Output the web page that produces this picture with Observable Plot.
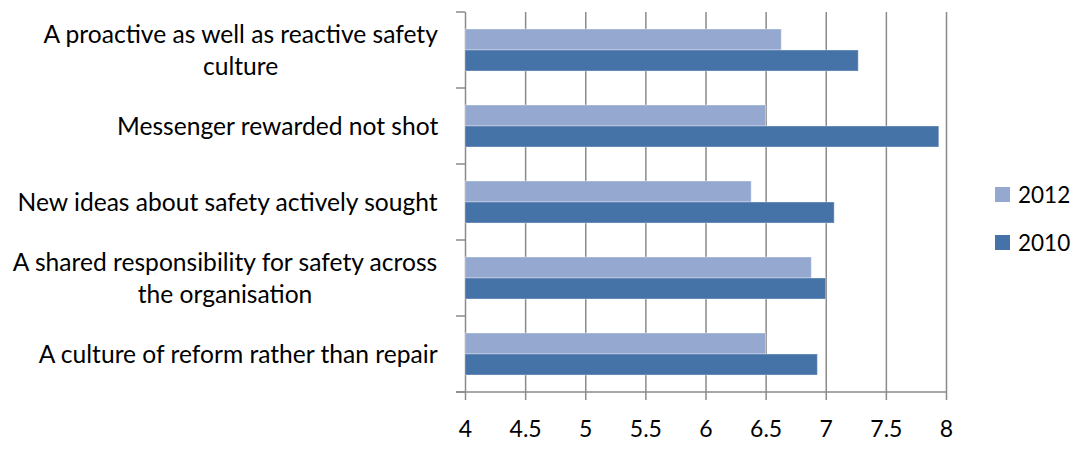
<!DOCTYPE html>
<html>
<head>
<meta charset="utf-8">
<script src="https://cdn.jsdelivr.net/npm/d3@7"></script>
<script src="https://cdn.jsdelivr.net/npm/@observablehq/plot@0.6"></script>
<style>
  body { margin: 0; background: #fff; font-family: Lato, "Open Sans", sans-serif; }
  #wrap { position: relative; width: 1092px; height: 455px; }
  .legend { position: absolute; left: 995px; top: 179px; font-family: Lato, sans-serif; font-size: 22.5px; color: #000; }
  .legend .row { display: flex; align-items: center; height: 30px; margin-bottom: 18px; }
  .legend .sw { width: 15px; height: 15px; margin-right: 8px; }
</style>
</head>
<body>
<div id="wrap"></div>
<script>
// ---- data ----
const categories = [
  "A proactive as well as reactive safety\nculture",
  "Messenger rewarded not shot",
  "New ideas about safety actively sought",
  "A shared responsibility for safety across\nthe organisation",
  "A culture of reform rather than repair"
];
const years = ["2012", "2010"];
const values2012 = [6.63, 6.50, 6.38, 6.88, 6.50];
const values2010 = [7.27, 7.94, 7.07, 7.00, 6.93];
const xDomain = [4, 8];
const xTicks = [4, 4.5, 5, 5.5, 6, 6.5, 7, 7.5, 8];
const colors = ["#95A9D0", "#4572A7"];

const data = categories.flatMap((c, i) => [
  {category: c, year: years[0], value: values2012[i]},
  {category: c, year: years[1], value: values2010[i]}
]);

const LABEL_FONT = 24.6;
const TICK_FONT = 23;
const gridColor = "#8a8a8a";

// measure label widths for centered multi-line labels
const ctx = document.createElement("canvas").getContext("2d");
ctx.font = `${LABEL_FONT}px Lato`;
const lineWidth = s => Math.max(...s.split("\n").map(l => ctx.measureText(l).width));

const labelMarks = categories.map(c => Plot.text([c], {
  fy: d => d,
  text: d => d,
  frameAnchor: "left",
  textAnchor: "middle",
  lineAnchor: "middle",
  lineHeight: 1.3,
  dx: -(27 + lineWidth(c) / 2),
  dy: -2,
  fontSize: LABEL_FONT,
  fill: "#000"
}));

const plot = Plot.plot({
  width: 1092,
  height: 455,
  marginLeft: 465,
  marginRight: 146,
  marginTop: 11,
  marginBottom: 63,
  style: {fontFamily: "Lato, sans-serif", fontSize: TICK_FONT + "px", background: "#fff"},
  x: {domain: xDomain, axis: null},
  y: {domain: years, paddingInner: 0, paddingOuter: 0.77, axis: null},
  fy: {domain: categories, padding: 0, axis: null},
  color: {domain: years, range: colors},
  marks: [
    Plot.ruleX(xTicks, {x: d => d, stroke: gridColor, strokeWidth: 1.5}),
    Plot.barX(data, {
      fy: "category", y: "year",
      x1: () => xDomain[0], x2: "value",
      fill: "year", inset: 0,
      stroke: "#ffffff", strokeOpacity: 0.35, strokeWidth: 1
    }),
    Plot.axisX({
      ticks: xTicks, tickSize: 8, tickPadding: 20,
      stroke: gridColor, strokeWidth: 1.5,
      fontSize: TICK_FONT, fill: "#000",
      label: null,
      tickFormat: d => String(d)
    }),
    ...labelMarks
  ]
});

document.getElementById("wrap").appendChild(plot);

// y-axis boundary ticks and bottom axis line, via the library's scales
const svg = d3.select(plot);
const x = plot.scale("x");
const fy = plot.scale("fy");
const bounds = categories.map(c => fy.apply(c));
bounds.push(fy.apply(categories[categories.length - 1]) + fy.bandwidth);
const x0 = x.apply(xDomain[0]);
const x1 = x.apply(xDomain[1]);
const g = svg.append("g").attr("stroke", gridColor).attr("stroke-width", 1.5);
g.selectAll("line.yt").data(bounds).join("line")
  .attr("x1", x0 - 9).attr("x2", x0).attr("y1", d => d).attr("y2", d => d);
g.append("line").attr("x1", x0 - 9).attr("x2", x1)
  .attr("y1", bounds[bounds.length - 1]).attr("y2", bounds[bounds.length - 1]);

// legend
const legend = d3.select("#wrap").append("div").attr("class", "legend");
const rows = legend.selectAll(".row").data(years).join("div").attr("class", "row");
rows.append("div").attr("class", "sw").style("background", (d, i) => colors[i]);
rows.append("span").text(d => d);
</script>
</body>
</html>
